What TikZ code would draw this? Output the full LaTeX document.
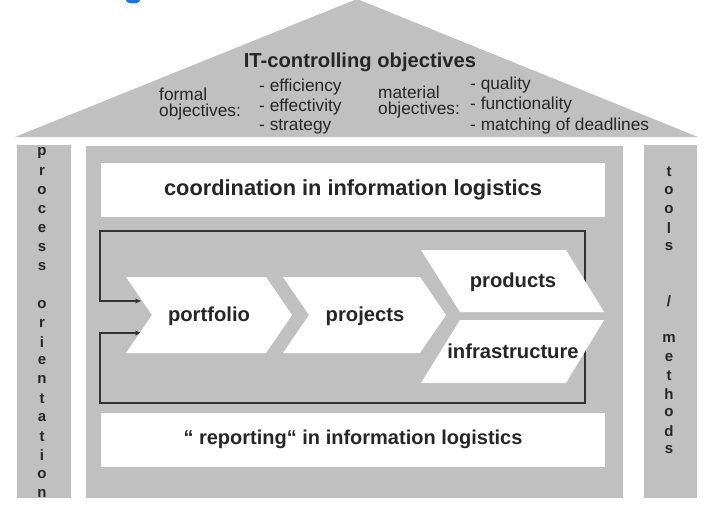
\documentclass[tikz,border=0pt]{standalone}
\usepackage{fontspec}
\setmainfont{Liberation Sans}
\usetikzlibrary{arrows.meta}
\definecolor{housegray}{RGB}{192,192,192}
\definecolor{txt}{RGB}{38,38,38}
\definecolor{loopline}{RGB}{50,50,50}
\definecolor{titleblue}{RGB}{30,115,215}
\begin{document}
\begin{tikzpicture}[x=1pt,y=-1pt,
  house/.style={fill=housegray,draw=none},
  whitebox/.style={fill=white,draw=none,minimum width=504pt,minimum height=54pt,inner sep=0pt,
     font=\bfseries\fontsize{20}{22}\selectfont,text=txt},
  chev/.style={fill=white,draw=none},
  lbl/.style={font=\bfseries\fontsize{20.2}{22}\selectfont,text=txt,inner sep=0pt},
  reg/.style={font=\fontsize{17.3}{20}\selectfont,text=txt,inner sep=0pt,anchor=west},
  pil/.style={font=\bfseries\fontsize{15}{16}\selectfont,text=txt,inner sep=0pt},
  loopl/.style={draw=loopline,line width=1.8pt},
  tip/.style={-{Stealth[length=6pt,width=5pt]}}
]
\useasboundingbox (0,0) rectangle (704,506);
% cut-off title glyph
\begin{scope}
  \clip (0,0) rectangle (704,10);
  \fill[titleblue] (133,0) ellipse (7 and 3.5);
\end{scope}
% roof, pillars, body
\fill[house] (15,137) -- (357,-1) -- (698,137) -- cycle;
\fill[house] (17,145) rectangle (71,498);
\fill[house] (644,145) rectangle (697,498);
\fill[house] (86,146) rectangle (623,498);
% roof texts
\node[lbl] (title) at (360,62) {IT-controlling objectives};
\node[reg] (formal) at (159,94) {formal};
\node[reg] (formalobj) at (159,112) {objectives:};
\node[reg] (eff1) at (259,87) {- efficiency};
\node[reg] (eff2) at (259,107) {- effectivity};
\node[reg] (strat) at (259,127) {- strategy};
\node[reg] (material) at (378,92) {material};
\node[reg] (matobj) at (378,110) {objectives:};
\node[reg] (qual) at (470,85) {- quality};
\node[reg] (func) at (470,105) {- functionality};
\node[reg] (match) at (470,126) {- matching of deadlines};
% pillar letters
\foreach \l/\y [count=\i] in {p/0,r/1,o/2,c/3,e/4,s/5,s/6,o/8,r/9,i/10,e/11,n/12,t/13,a/14,t/15,i/16,o/17,n/18}
  \node[pil] (pl\i) at (42,153+\y*18.9) {\l};
\foreach \l/\y [count=\i] in {t/0,o/1,o/2,l/3,s/4,{/}/7,m/9,e/10,t/11,h/12,o/13,d/14,s/15}
  \node[pil] (pr\i) at (669,172+\y*18.53) {\l};
% white boxes
\node[whitebox,font=\bfseries\fontsize{21.8}{24}\selectfont] (coord) at (353,190) {coordination in information logistics};
\node[whitebox] (report) at (353,439.5) {“ reporting“ in information logistics};
% loop
\coordinate (rtop) at (585,295);
\coordinate (rbot) at (585,340);
\coordinate (ltop) at (100,231);
\coordinate (lbot) at (100,403);
\coordinate (in1) at (141,301);
\coordinate (in2) at (141,333);
\draw[loopl,tip] (rtop) |- (ltop) |- (in1);
\draw[loopl,tip] (rbot) |- (lbot) |- (in2);
% chevrons
\fill[chev] (126,277) -- (266,277) -- (292,315) -- (266,353) -- (126,353) -- (152,315) -- cycle;
\fill[chev] (283,277) -- (420,277) -- (446,315) -- (420,353) -- (283,353) -- (309,315) -- cycle;
\fill[chev] (421,250) -- (566,250) -- (604,312) -- (460,312) -- cycle;
\fill[chev] (460,320) -- (604,320) -- (566,383) -- (421,383) -- cycle;
\node[lbl] (portfolio) at (209,316) {portfolio};
\node[lbl] (projects) at (365,316) {projects};
\node[lbl] (products) at (513,282) {products};
\node[lbl] (infra) at (513,351) {infrastructure};
\end{tikzpicture}
\end{document}
